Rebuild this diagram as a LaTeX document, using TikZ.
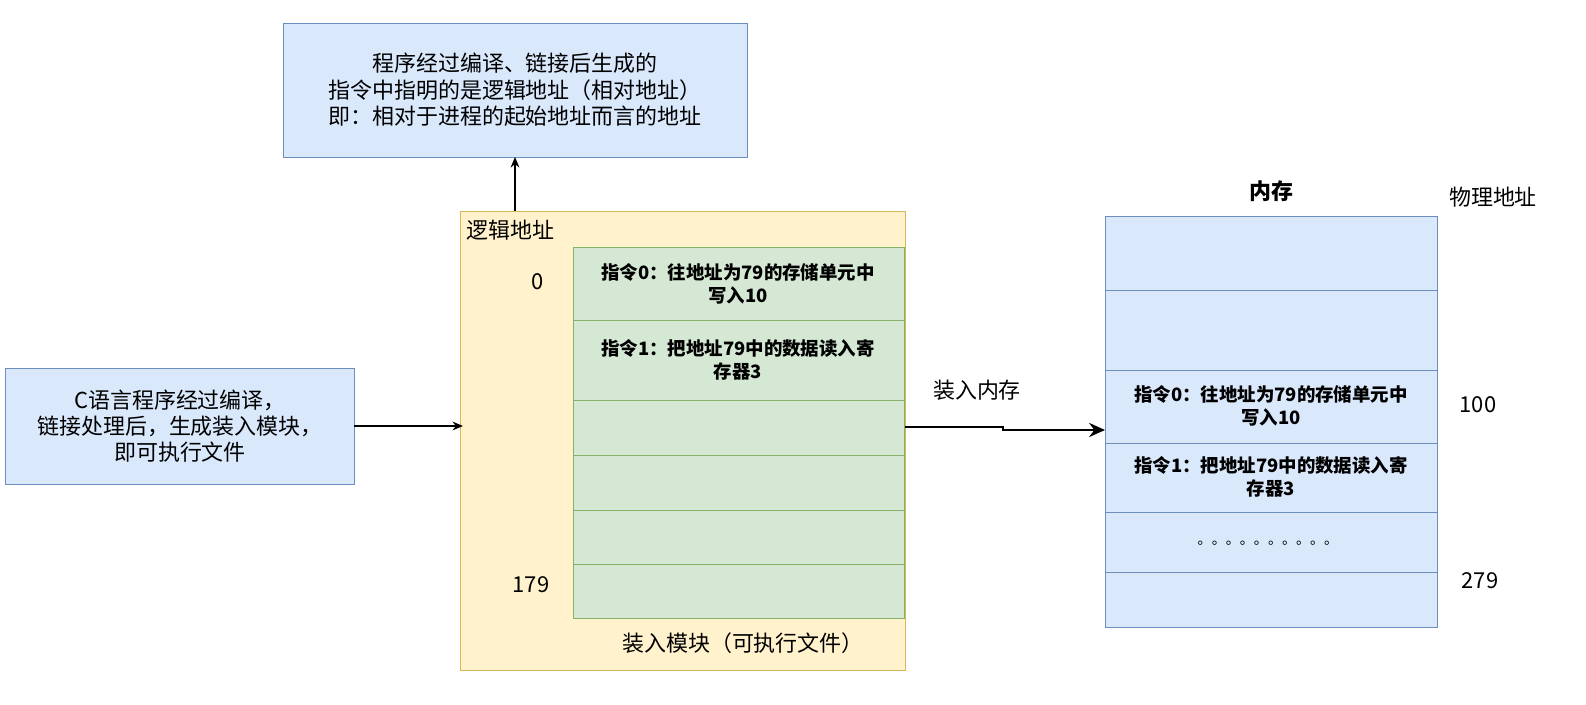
\documentclass[tikz,border=0pt]{standalone}
\usepackage{fontspec}
\setmainfont{Noto Sans CJK SC}
\usetikzlibrary{arrows.meta}
\begin{document}
\begin{tikzpicture}[x=0.02cm, y=-0.02cm, font=\fontsize{12.5}{15}\selectfont]
    \definecolor{my-blue}{HTML}{DAE8FC}
    \definecolor{my-blueline}{HTML}{6C8EBF}
    \definecolor{my-yellow}{HTML}{FFF2CC}
    \definecolor{my-yellowline}{HTML}{D6B656}
    \definecolor{my-green}{HTML}{D5E8D4}
    \definecolor{my-greenline}{HTML}{82B366}
    \tikzset{
      bluebox/.style={draw=my-blueline, fill=my-blue},
      greencell/.style={draw=my-greenline, fill=my-green},
      cell/.style={font=\fontsize{10.5}{13}\selectfont\bfseries, align=center},
      arr/.style={-{Stealth[length=6pt,width=5pt]}, line width=0.7pt}
    }
    \useasboundingbox (0,0) rectangle (1586,705);
    % top note
    \draw[bluebox] (283,23) rectangle (747,157);
    \node[align=center] (note) at (515,90) {程序经过编译、链接后生成的\\指令中指明的是逻辑地址（相对地址）\\即：相对于进程的起始地址而言的地址};
    \coordinate (noteb) at (515,157);
    % load module
    \draw[draw=my-yellowline, fill=my-yellow] (460,211) rectangle (905,670);
    \node[anchor=west] (logic) at (460,230) {逻辑地址};
    \coordinate (modt) at (515,211);
    \draw[arr] (modt) -- (noteb);
    \foreach \ya/\yb in {247/320, 320/400, 400/455, 455/510, 510/564, 564/618}
      \draw[greencell] (573,\ya) rectangle (904,\yb);
    \node[cell] (i0) at (738,284) {指令0：往地址为79的存储单元中\\写入10};
    \node[cell] (i1) at (738,360) {指令1：把地址79中的数据读入寄\\存器3};
    \node (a0) at (538,282) {0};
    \node (a179) at (531,585) {179};
    \node (modname) at (743,643) {装入模块（可执行文件）};
    % source
    \draw[bluebox] (5,368) rectangle (354,484);
    \node[align=center] (src) at (180,426) {C语言程序经过编译，\\链接处理后，生成装入模块，\\即可执行文件};
    \coordinate (srcr) at (354,426);
    \coordinate (modl) at (463,426);
    \draw[arr] (srcr) -- (modl);
    % memory
    \foreach \ya/\yb in {216/290, 290/370, 370/443, 443/512, 512/572, 572/627}
      \draw[bluebox] (1105,\ya) rectangle (1437,\yb);
    \node[cell] (m0) at (1271,406) {指令0：往地址为79的存储单元中\\写入10};
    \node[cell] (m1) at (1271,477) {指令1：把地址79中的数据读入寄\\存器3};
    \node[font=\fontsize{8}{10}\selectfont] (dots) at (1268,543) {。。。。。。。。。。};
    \node[font=\fontsize{12.5}{15}\selectfont\bfseries] (mem) at (1271,191) {内存};
    \node (phys) at (1493,197) {物理地址};
    \node (p100) at (1478,405) {100};
    \node (p279) at (1480,581) {279};
    % load arrow
    \coordinate (modr) at (905,427);
    \coordinate (meml) at (1105,430);
    \draw[-{Stealth[length=9pt,width=8pt]}, line width=1.4pt] (modr) -- (1003,427) -- (1003,430) -- (meml);
    \node (load) at (977,390) {装入内存};
\end{tikzpicture}
\end{document}
